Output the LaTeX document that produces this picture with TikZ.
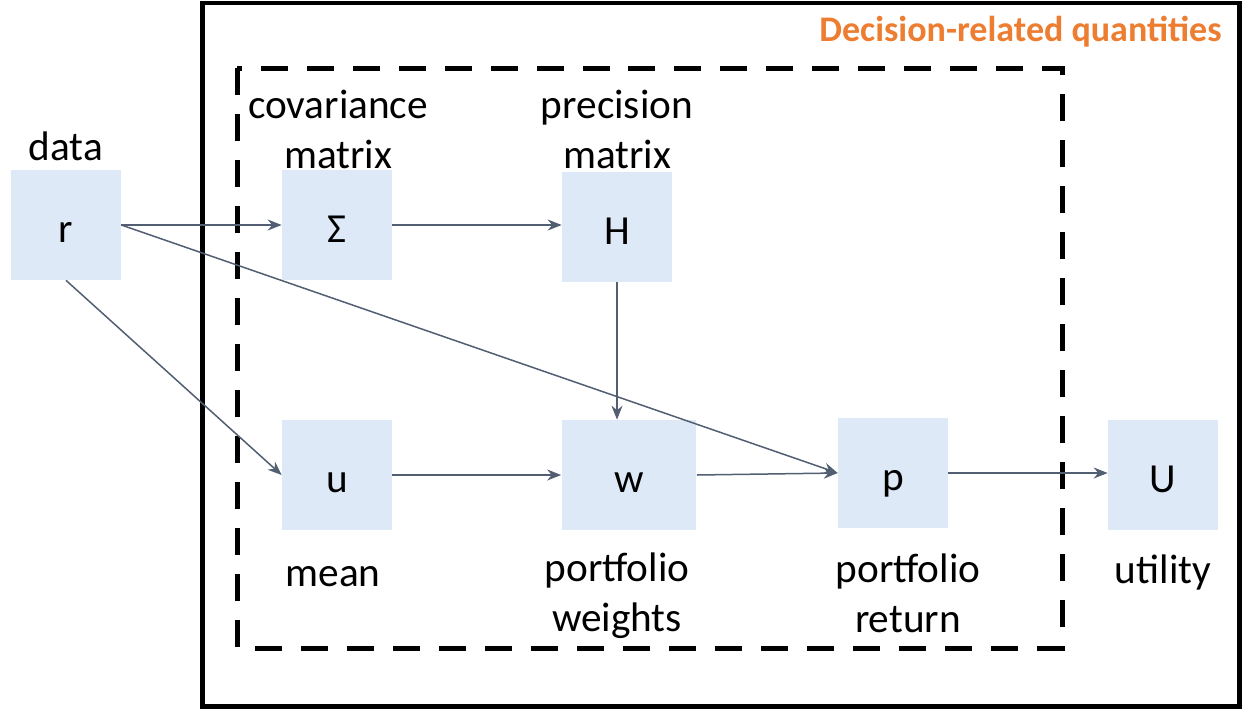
\documentclass[tikz,border=0pt]{standalone}
\usepackage{fontspec}
\setmainfont{Carlito}
\usepackage{xcolor}
\usepackage{tikz}
\usetikzlibrary{arrows.meta, positioning}

\definecolor{boxblue}{RGB}{221,233,246}
\definecolor{linkgray}{RGB}{82,94,114}
\definecolor{titleorange}{RGB}{237,125,49}

\begin{document}
\begin{tikzpicture}[x=0.02cm, y=-0.02cm, >={Stealth[length=0.28cm, width=0.22cm]},
    font=\fontsize{23.5}{28.5}\selectfont,
    qty/.style={fill=boxblue, minimum width=2.2cm, minimum height=2.2cm, inner sep=0pt,
                text height=0.68cm, text depth=0pt},
    link/.style={->, draw=linkgray, fill=linkgray, line width=0.03cm},
    lbl/.style={align=center, inner sep=0pt}]
        \useasboundingbox (0,0) rectangle (1246,710);
        % frames
        \draw[line width=0.1cm] (202,3) rectangle (1239,706);
        \draw[line width=0.1cm, dash pattern=on 0.54cm off 0.38cm] (237,68) rectangle (1062,648);
        \node[lbl, anchor=east, font=\fontsize{20.5}{24}\selectfont\bfseries, text=titleorange]
              (title) at (1222,32) {Decision-related quantities};
        % quantities
        \node[qty] (r) at (66,225) {r};
        \node[qty] (sig) at (337,225) {Σ};
        \node[qty] (H) at (617,227) {H};
        \node[qty] (u) at (337,475) {u};
        \node[qty, minimum width=2.7cm] (w) at (629,475) {w};
        \node[qty] (p) at (893,473) {p};
        \node[qty] (U) at (1163,475) {U};
        % labels
        \node[lbl] (datalbl) at (66,146) {data};
        \node[lbl] (covlbl) at (338,129) {covariance\\matrix};
        \node[lbl] (preclbl) at (617,129) {precision\\matrix};
        \node[lbl] (meanlbl) at (333,577) {mean};
        \node[lbl] (wlbl) at (617,596) {portfolio\\weights};
        \node[lbl] (plbl) at (908,593) {portfolio\\return};
        \node[lbl] (ulbl) at (1163,572) {utility};
        % links
        \draw[link] (r.east) -- (sig.west);
        \draw[link] (sig.east) -- (sig.east -| H.west);
        \draw[link] (H.south) -- (H.south |- w.north);
        \draw[link] (r.south) -- (u.west);
        \draw[link] (r.east) -- (p.west);
        \draw[link] (u.east) -- (w.west);
        \draw[link] (w.east) -- (p.west);
        \draw[link] (p.east) -- (p.east -| U.west);
      \end{tikzpicture}
\end{document}
